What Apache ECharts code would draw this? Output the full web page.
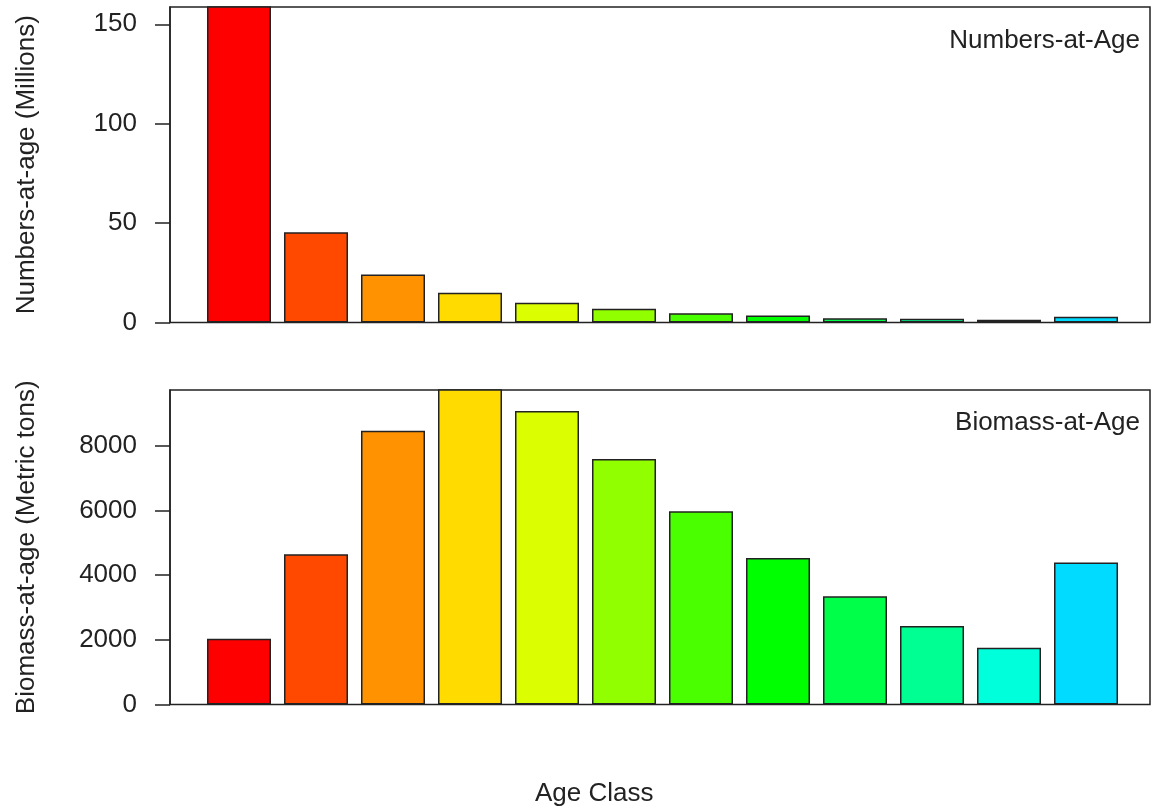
<!DOCTYPE html>
<html>
<head>
<meta charset="utf-8">
<script src="https://cdn.jsdelivr.net/npm/echarts@6/dist/echarts.min.js"></script>
<style>
html,body{margin:0;padding:0;background:#fff;}
#chart{width:1151px;height:811px;}
</style>
</head>
<body>
<div id="chart"></div>
<script>
// ---- data ----
const ageClasses = ['1','2','3','4','5','6','7','8','9','10','11','12'];
const numbersAtAge = [205, 45.4, 24.2, 15.0, 9.9, 6.9, 4.7, 3.5, 2.2, 1.9, 1.4, 2.9];
const biomassAtAge = [2033, 4644, 8462, 10200, 9071, 7585, 5975, 4530, 3344, 2424, 1755, 4387];
const numbersTicks = [0, 50, 100, 150];
const biomassTicks = [0, 2000, 4000, 6000, 8000];
const barColors = ['#FF0000','#FF4900','#FF9200','#FFDB00','#DBFF00','#92FF00',
                   '#49FF00','#00FF00','#00FF49','#00FF92','#00FFDB','#00DBFF'];

const FONT = 'Liberation Sans, Arial, sans-serif';
const INK = '#222';

function items(values) {
  return values.map((v, i) => ({ value: [i, v], name: ageClasses[i], itemStyle: { color: barColors[i] } }));
}

function yAxisCfg(gridIndex, max, ticks, name) {
  return {
    type: 'value', gridIndex: gridIndex, min: 0, max: max, position: 'left',
    name: name, nameLocation: 'middle', nameGap: 130,
    nameTextStyle: { fontFamily: FONT, fontSize: 26, color: INK },
    axisLine: { show: true, onZero: false, lineStyle: { color: INK, width: 1.5 } },
    axisTick: { show: true, length: 15, inside: false, customValues: ticks, lineStyle: { color: INK, width: 1.5 } },
    axisLabel: { customValues: ticks, margin: 33, fontFamily: FONT, fontSize: 26, color: INK,
                 formatter: v => String(v) },
    splitLine: { show: false }
  };
}
function xAxisCfg(gridIndex) {
  return {
    type: 'value', gridIndex: gridIndex, min: -0.896, max: 11.831, position: 'bottom',
    axisLine: { show: false, onZero: false }, axisTick: { show: false }, axisLabel: { show: false }, splitLine: { show: false }
  };
}

const chart = echarts.init(document.getElementById('chart'), null, { renderer: 'canvas' });
chart.setOption({
  backgroundColor: '#fff',
  animation: false,
  title: [
    { text: 'Numbers-at-Age', right: 11, top: 28, padding: 0,
      textStyle: { fontFamily: FONT, fontSize: 26, fontWeight: 'normal', color: INK } },
    { text: 'Biomass-at-Age', right: 11, top: 410, padding: 0,
      textStyle: { fontFamily: FONT, fontSize: 26, fontWeight: 'normal', color: INK } },
    { text: 'Age Class', left: 535, top: 781, padding: 0,
      textStyle: { fontFamily: FONT, fontSize: 26, fontWeight: 'normal', color: INK } }
  ],
  grid: [
    { left: 170, top: 7, width: 980, height: 315.5, show: true, borderColor: INK, borderWidth: 1.5, backgroundColor: 'transparent' },
    { left: 170, top: 390, width: 980, height: 314.5, show: true, borderColor: INK, borderWidth: 1.5, backgroundColor: 'transparent' }
  ],
  xAxis: [xAxisCfg(0), xAxisCfg(1)],
  yAxis: [
    yAxisCfg(0, 158.7, numbersTicks, 'Numbers-at-age (Millions)'),
    yAxisCfg(1, 9720, biomassTicks, 'Biomass-at-age (Metric tons)')
  ],
  series: [
    { type: 'bar', xAxisIndex: 0, yAxisIndex: 0, barWidth: 64, clip: true,
      itemStyle: { borderColor: INK, borderWidth: 1.5 }, data: items(numbersAtAge) },
    { type: 'bar', xAxisIndex: 1, yAxisIndex: 1, barWidth: 64, clip: true,
      itemStyle: { borderColor: INK, borderWidth: 1.5 }, data: items(biomassAtAge) }
  ]
});
</script>
</body>
</html>
